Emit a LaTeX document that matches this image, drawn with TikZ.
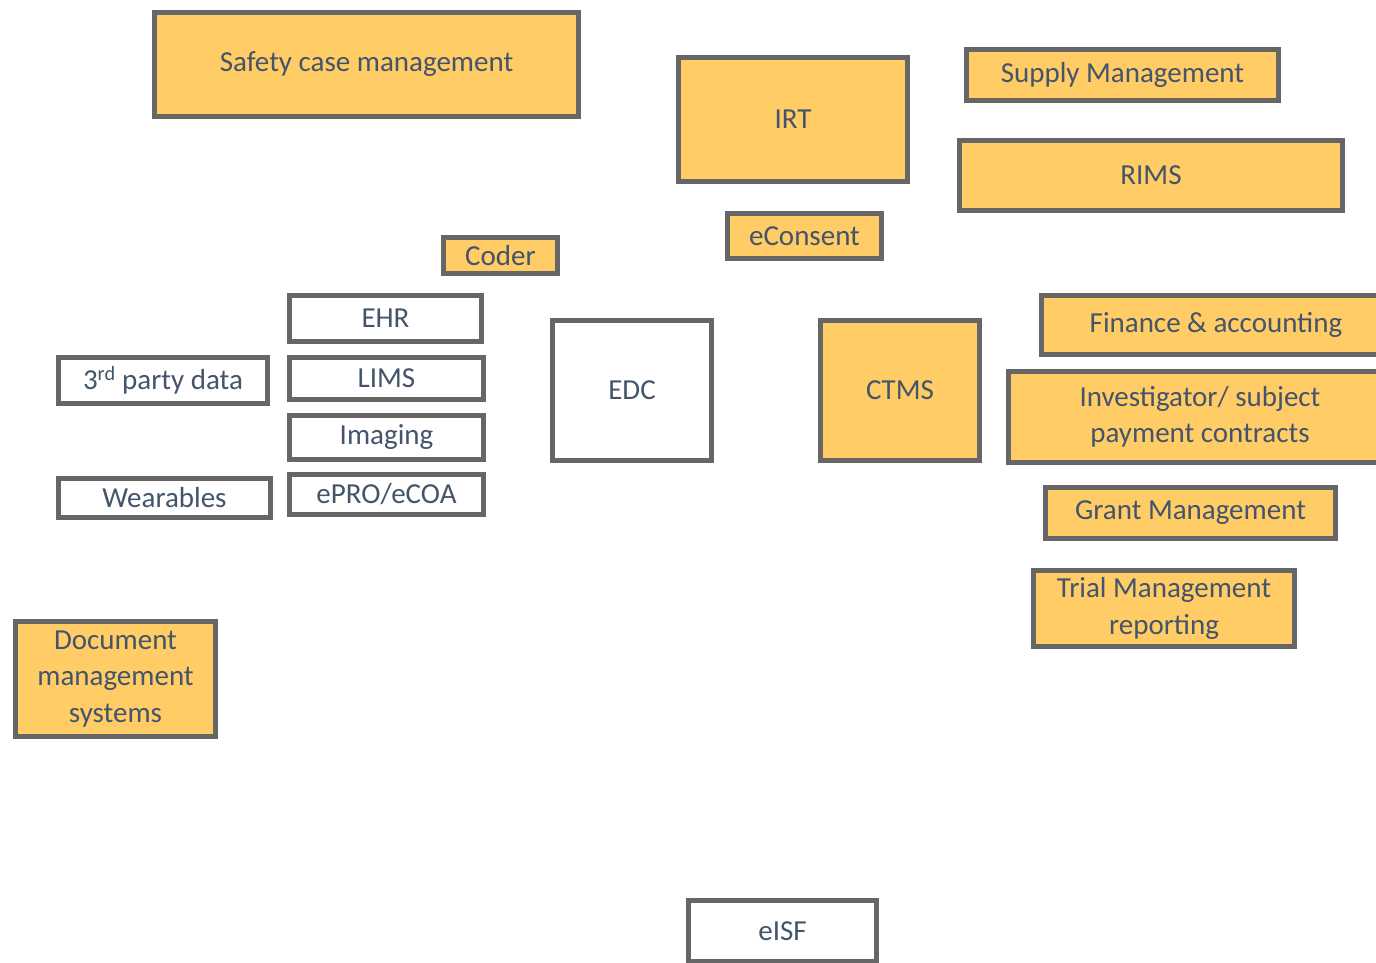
\documentclass[tikz,border=0pt]{standalone}
\usepackage{fontspec}
\setmainfont{Carlito}
\usepackage{tikz}
\usetikzlibrary{positioning}
\definecolor{sysfill}{HTML}{FFCC66}
\definecolor{sysline}{HTML}{666666}
\definecolor{systext}{HTML}{44546A}

\begin{document}
\begin{tikzpicture}[x=1pt,y=-1pt,
    box/.style={draw=sysline,line width=5pt,text=systext,align=center,
      inner sep=0pt,font=\fontsize{29}{36.5}\selectfont},
    sys/.style={box,fill=sysfill},
    src/.style={box,fill=white}]
    \useasboundingbox (0,0) rectangle (1376,962);
    % systems around the EDC
    \node[sys,minimum width=424pt,minimum height=104pt] (safety) at (366.5,64.5) {Safety case management};
    \node[sys,minimum width=229pt,minimum height=124pt] (irt) at (793,119.5) {IRT};
    \node[sys,minimum width=312pt,minimum height=51pt] (supply) at (1122.5,75) {Supply Management};
    \node[sys,minimum width=383pt,minimum height=70pt] (rims) at (1151,175.5) {RIMS};
    \node[sys,minimum width=154pt,minimum height=45pt] (econsent) at (804.5,236) {eConsent};
    \node[sys,minimum width=114pt,minimum height=36pt] (coder) at (500.5,255.5) {Coder};
    % data sources
    \node[src,minimum width=192pt,minimum height=46pt] (ehr) at (385.5,318.5) {EHR};
    \node[src,minimum width=194pt,minimum height=42pt] (lims) [below=11pt of ehr.south west,anchor=north west] {LIMS};
    \node[src,minimum width=194pt,minimum height=44pt] (imaging) [below=11pt of lims] {Imaging};
    \node[src,minimum width=194pt,minimum height=40pt] (epro) [below=10pt of imaging] {ePRO/eCOA};
    \node[src,minimum width=209pt,minimum height=46pt] (third) at (163,380.5) {3\textsuperscript{rd} party data};
    \node[src,minimum width=212pt,minimum height=39pt] (wear) at (164.5,498) {Wearables};
    \node[src,minimum width=159pt,minimum height=140pt] (edc) at (632,390.5) {EDC};
    \node[sys,minimum width=159pt,minimum height=140pt] (ctms) at (900,390.5) {CTMS};
    % finance side
    \node[sys,minimum width=349pt,minimum height=59pt] (finance) at (1216,325) {Finance \& accounting};
    \node[sys,minimum width=383pt,minimum height=91pt] (invest) at (1200,417) {Investigator/ subject\\payment contracts};
    \node[sys,minimum width=290pt,minimum height=51pt] (grant) at (1190.5,513) {Grant Management};
    \node[sys,minimum width=261pt,minimum height=76pt] (trial) at (1164,608.5) {Trial Management\\reporting};
    \node[sys,minimum width=200pt,minimum height=115pt] (docs) at (115.5,679) {Document\\management\\systems};
    \node[src,minimum width=188pt,minimum height=61pt] (eisf) at (782.5,931) {eISF};
\end{tikzpicture}
\end{document}
